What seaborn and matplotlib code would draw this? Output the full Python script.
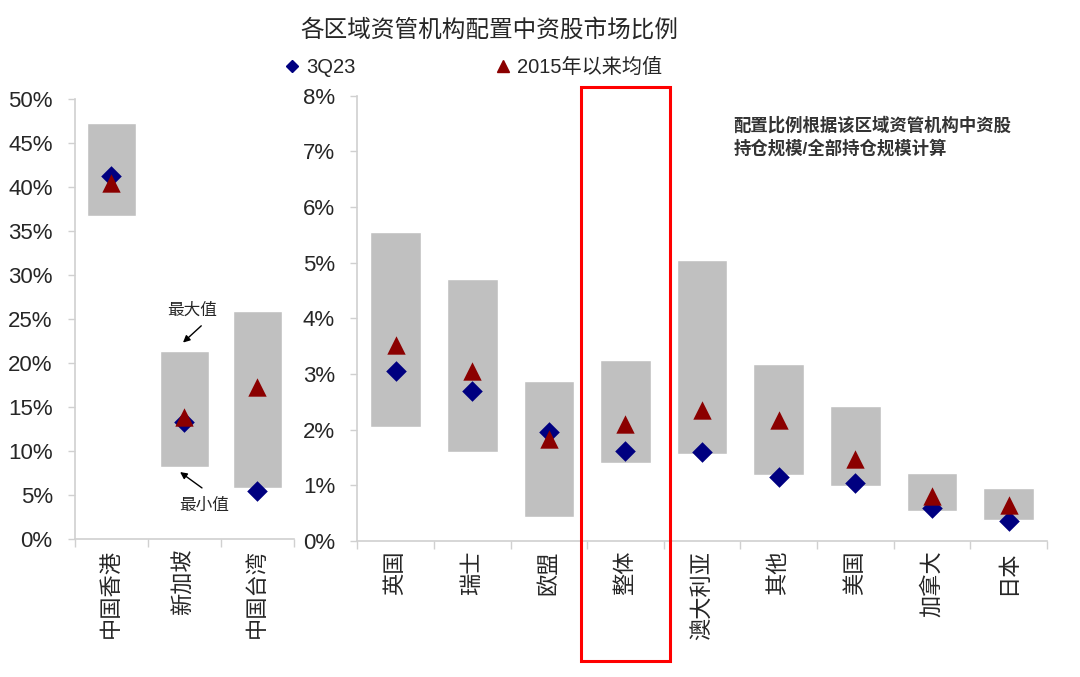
import matplotlib
matplotlib.use("Agg")
import matplotlib.pyplot as plt
import seaborn as sns
import pandas as pd
import numpy as np
from matplotlib.lines import Line2D
from matplotlib.patches import Rectangle
from matplotlib.ticker import PercentFormatter, FixedLocator

# values in percent
left_regions = ["中国香港", "新加坡", "中国台湾"]
left_max = [47.2, 21.3, 25.9]
left_min = [36.7, 8.2, 5.75]
left_now = [41.2, 13.3, 5.5]
left_avg = [40.4, 13.9, 17.3]

right_regions = ["英国", "瑞士", "欧盟", "整体", "澳大利亚", "其他", "美国", "加拿大", "日本"]
right_max = [5.55, 4.70, 2.88, 3.26, 5.04, 3.18, 2.42, 1.23, 0.96]
right_min = [2.05, 1.59, 0.43, 1.41, 1.56, 1.18, 0.99, 0.53, 0.38]
right_now = [3.05, 2.69, 1.96, 1.62, 1.60, 1.15, 1.05, 0.59, 0.36]
right_avg = [3.52, 3.05, 1.83, 2.11, 2.36, 2.17, 1.48, 0.80, 0.64]

NOW_LABEL = "3Q23"
AVG_LABEL = "2015年以来均值"
NAVY = "#000080"
DARKRED = "#8B0000"
BOX = "#C0C0C0"
SPINE = "#D0D0D0"

sns.set_theme(style="white")
plt.rcParams["font.family"] = ["Liberation Sans", "Noto Sans CJK SC", "DejaVu Sans"]
plt.rcParams["axes.unicode_minus"] = False

fig = plt.figure(figsize=(10.8, 6.77), dpi=100)
ax_l = fig.add_axes([0.0694, 0.2038, 0.2028, 0.6507])
ax_r = fig.add_axes([0.3308, 0.2009, 0.6386, 0.6577])


def draw_panel(ax, regions, vmax, vmin, now, avg, ymax, step):
    x = np.arange(len(regions))
    lo = np.array(vmin)
    hi = np.array(vmax)
    ax.bar(x, hi - lo, width=0.66, bottom=lo, color=BOX, zorder=1)
    df = pd.DataFrame({"pos": np.concatenate([x, x]),
                       "value": now + avg,
                       "series": [NOW_LABEL] * len(x) + [AVG_LABEL] * len(x)})
    sns.scatterplot(data=df[df["series"] == NOW_LABEL], x="pos", y="value",
                    marker="D", color=NAVY, s=110, linewidth=0, ax=ax,
                    legend=False, zorder=3)
    sns.scatterplot(data=df[df["series"] == AVG_LABEL], x="pos", y="value",
                    marker="^", color=DARKRED, s=175, linewidth=0, ax=ax,
                    legend=False, zorder=4)
    ax.set_xlim(-0.5, len(regions) - 0.5)
    ax.set_ylim(0, ymax)
    ax.set_yticks(np.arange(0, ymax + step / 2, step))
    ax.yaxis.set_major_formatter(PercentFormatter(100, decimals=0))
    ax.set_xticks(x)
    ax.set_xticklabels(regions, rotation=90, fontsize=16)
    ax.xaxis.set_minor_locator(FixedLocator(np.arange(-0.5, len(regions), 1.0)))
    ax.tick_params(axis="x", which="major", length=0, pad=7)
    ax.tick_params(axis="x", which="minor", bottom=True, length=6, width=1,
                   color=SPINE, direction="out")
    ax.tick_params(axis="y", left=True, length=5, width=1, color=SPINE,
                   direction="out", pad=11, labelsize=16)
    ax.set_xlabel("")
    ax.set_ylabel("")
    for side in ["top", "right"]:
        ax.spines[side].set_visible(False)
    for side in ["left", "bottom"]:
        ax.spines[side].set_color(SPINE)
        ax.spines[side].set_linewidth(1.2)
    ax.grid(False)


draw_panel(ax_l, left_regions, left_max, left_min, left_now, left_avg, 50, 5)
draw_panel(ax_r, right_regions, right_max, right_min, right_now, right_avg, 8, 1)

# max / min callouts on Singapore box
ax_l.text(1.10, 26.0, "最大值", ha="center", va="center", fontsize=12)
ax_l.annotate("", xy=(0.98, 22.3), xytext=(1.23, 24.2),
              arrowprops=dict(arrowstyle="-|>", color="black", lw=1,
                              mutation_scale=10, shrinkA=0, shrinkB=0))
ax_l.text(1.27, 3.85, "最小值", ha="center", va="center", fontsize=12)
ax_l.annotate("", xy=(0.94, 7.6), xytext=(1.24, 5.8),
              arrowprops=dict(arrowstyle="-|>", color="black", lw=1,
                              mutation_scale=10, shrinkA=0, shrinkB=0))

# highlight the overall category
i = right_regions.index("整体")
ax_r.add_patch(Rectangle((i - 0.576, -2.15), 1.152, 10.31, fill=False,
                         edgecolor="#FF0000", linewidth=2.2, clip_on=False,
                         zorder=5))

ax_r.text(0.545, 0.955, "配置比例根据该区域资管机构中资股\n持仓规模/全部持仓规模计算",
          transform=ax_r.transAxes, ha="left", va="top", fontsize=12.5,
          color="#333333", fontweight="bold", linespacing=1.35)

fig.text(0.453, 0.956, "各区域资管机构配置中资股市场比例", ha="center",
         va="center", fontsize=17, fontweight="medium")

handles = [Line2D([], [], marker="D", color=NAVY, linestyle="none", markersize=6),
           Line2D([], [], marker="^", color=DARKRED, linestyle="none", markersize=9)]
fig.legend(handles, [NOW_LABEL, AVG_LABEL], loc="center left",
           bbox_to_anchor=(0.263, 0.901), ncol=2, frameon=False, fontsize=14.5,
           handlelength=0.8, handletextpad=0.3, columnspacing=6.9,
           borderpad=0, borderaxespad=0)

fig.savefig("out.png", dpi=100)
